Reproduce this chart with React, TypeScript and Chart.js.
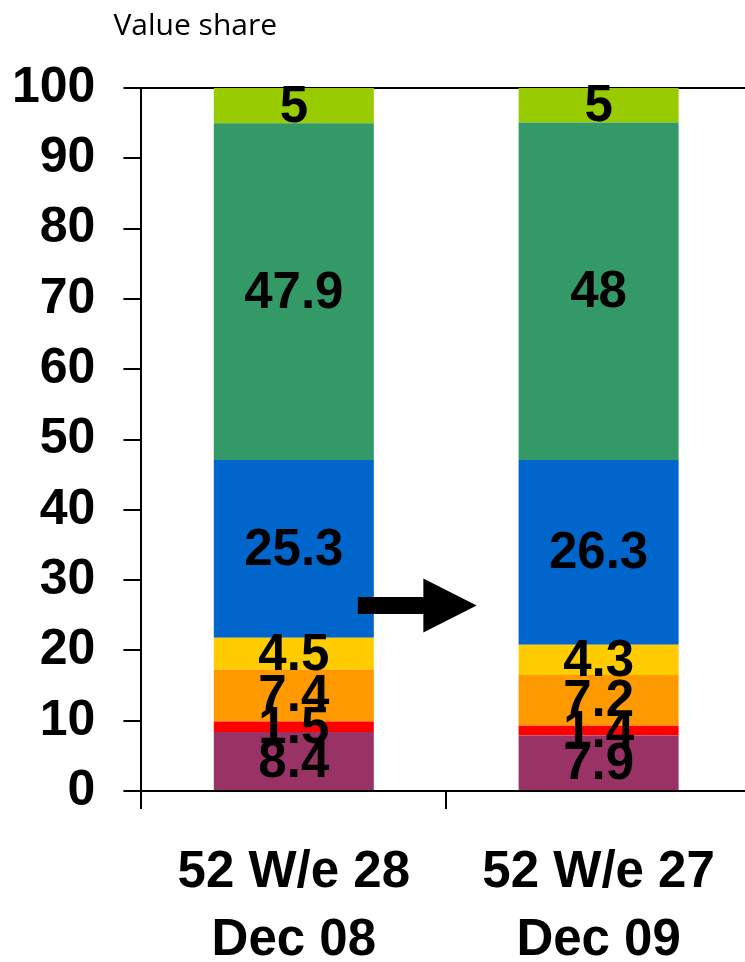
import React, { useEffect, useRef } from "react";
import { Chart, registerables } from "chart.js";

Chart.register(...registerables);

const categories = [["52 W/e 28", "Dec 08"], ["52 W/e 27", "Dec 09"]];
const chartTitle = "Value share";
const yTickValues = [0, 10, 20, 30, 40, 50, 60, 70, 80, 90, 100];

const seriesNames = ["Segment 1", "Segment 2", "Segment 3", "Segment 4", "Segment 5", "Segment 6", "Segment 7"];
const segment1 = [8.4, 7.9];
const segment2 = [1.5, 1.4];
const segment3 = [7.4, 7.2];
const segment4 = [4.5, 4.3];
const segment5 = [25.3, 26.3];
const segment6 = [47.9, 48];
const segment7 = [5, 5];
const seriesColors = ["#993366", "#FF0000", "#FF9900", "#FFCC00", "#0066CC", "#339966", "#99CC00"];

// arrow annotation (in data units): level on y, start/head/tip as fraction between the two categories
const arrowLevel = 26.4;
const arrowStart = 0.21;
const arrowHeadBase = 0.425;
const arrowTip = 0.6;

const BOLD = "'Liberation Sans', Arial, sans-serif";

const labelPlugin = {
  id: "segLabels",
  afterDatasetsDraw(chart: any) {
    const ctx = chart.ctx;
    ctx.save();
    ctx.fillStyle = "#000";
    ctx.font = `bold 51px ${BOLD}`;
    ctx.textAlign = "center";
    ctx.textBaseline = "middle";
    chart.data.datasets.forEach((ds: any, di: number) => {
      const meta = chart.getDatasetMeta(di);
      meta.data.forEach((el: any, i: number) => {
        const v = ds.data[i];
        const y = (el.y + el.base) / 2;
        ctx.fillText(String(v), el.x, y + 2);
      });
    });
    // arrow
    const xs = chart.scales.x;
    const ys = chart.scales.y;
    const x0 = xs.getPixelForValue(0);
    const x1 = xs.getPixelForValue(1);
    const w = x1 - x0;
    const ay = ys.getPixelForValue(arrowLevel);
    const sx = x0 + arrowStart * w;
    const hx = x0 + arrowHeadBase * w;
    const tx = x0 + arrowTip * w;
    const sh = 8.5;
    const hh = 27;
    ctx.beginPath();
    ctx.moveTo(sx, ay - sh);
    ctx.lineTo(hx, ay - sh);
    ctx.lineTo(hx, ay - hh);
    ctx.lineTo(tx, ay);
    ctx.lineTo(hx, ay + hh);
    ctx.lineTo(hx, ay + sh);
    ctx.lineTo(sx, ay + sh);
    ctx.closePath();
    ctx.fill();
    // title
    ctx.font = "30px 'Open Sans', sans-serif";
    ctx.textAlign = "left";
    ctx.textBaseline = "alphabetic";
    ctx.fillText(chartTitle, chart.chartArea.left - 28, 35);
    ctx.restore();
  },
};

export default function App() {
  const ref = useRef<HTMLCanvasElement>(null);
  useEffect(() => {
    if (!ref.current) return;
    const allSeries = [segment1, segment2, segment3, segment4, segment5, segment6, segment7];
    const chart = new Chart(ref.current, {
      type: "bar",
      data: {
        labels: categories as any,
        datasets: allSeries.map((d, i) => ({
          label: seriesNames[i],
          data: d,
          backgroundColor: seriesColors[i],
          borderWidth: 0,
          categoryPercentage: 1,
          barPercentage: 0.525,
        })),
      },
      options: {
        animation: false,
        responsive: false,
        layout: { padding: { left: 12, top: 88, right: 0, bottom: 0 } },
        plugins: { legend: { display: false }, tooltip: { enabled: false }, title: { display: false } },
        scales: {
          x: {
            stacked: true,
            offset: true,
            border: { display: true, color: "#000", width: 2 },
            grid: { display: true, drawOnChartArea: false, offset: true, tickLength: 18, tickColor: "#000", tickWidth: 2, lineWidth: 2 },
            ticks: { color: "#000", padding: 30, maxRotation: 0, font: { family: BOLD, size: 51, weight: "bold", lineHeight: 1.333 } },
          },
          y: {
            stacked: true,
            min: 0,
            max: 100,
            afterBuildTicks: (s: any) => { s.ticks = yTickValues.map((v) => ({ value: v })); },
            border: { display: true, color: "#000", width: 2 },
            grid: {
              color: (c: any) => (c.tick && c.tick.value === 100 ? "#000" : "rgba(0,0,0,0)"),
              tickColor: "#000",
              tickLength: 18,
              lineWidth: 2,
              tickWidth: 2,
            },
            ticks: { color: "#000", padding: 28, font: { family: BOLD, size: 50, weight: "bold" } },
          },
        },
      },
      plugins: [labelPlugin],
    });
    return () => chart.destroy();
  }, []);
  return (
    <div style={{ position: "fixed", left: 0, top: 0, width: 745, height: 962, overflow: "hidden", background: "#fff" }}>
      <canvas ref={ref} width={779} height={1005} style={{ display: "block", position: "absolute", left: -28, top: 0, width: 779, height: 1005 }} />
    </div>
  );
}
